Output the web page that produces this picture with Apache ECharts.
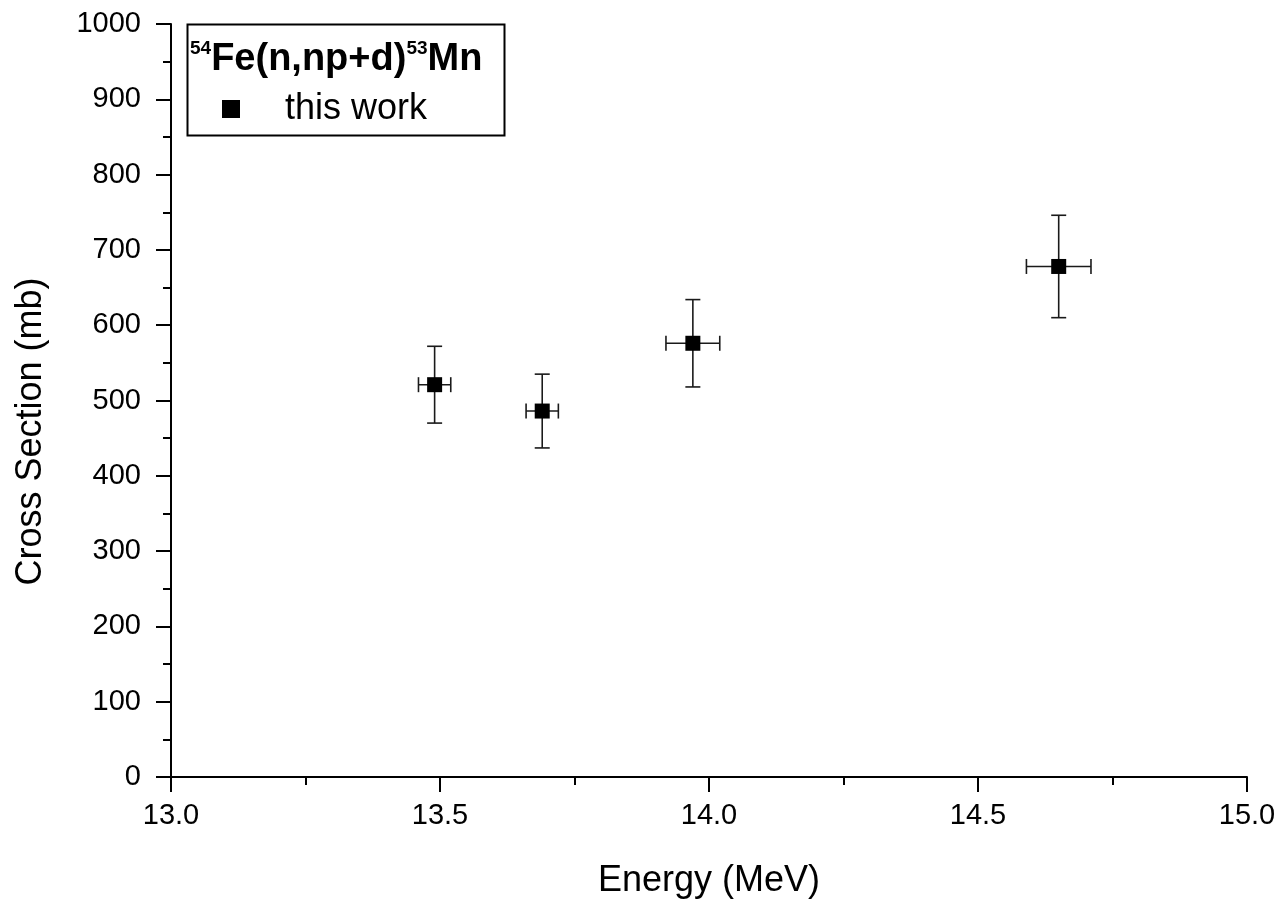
<!DOCTYPE html>
<html>
<head>
<meta charset="utf-8">
<script src="https://cdn.jsdelivr.net/npm/echarts@6/dist/echarts.min.js"></script>
<style>
html,body{margin:0;padding:0;background:#fff;}
#chart{width:1284px;height:904px;}
</style>
</head>
<body>
<div id="chart"></div>
<script>
// Data
const energy    = [13.49, 13.69, 13.97, 14.65];   // MeV
const energyErr = [0.03, 0.03, 0.05, 0.06];       // MeV
const xs        = [521, 486, 576, 678];           // mb
const xsErr     = [51, 49, 58, 68];               // mb
const xTicks    = { min: 13.0, max: 15.0, interval: 0.5 };
const yTicks    = { min: 0, max: 1000, interval: 100 };
const seriesName = 'this work';
const xName = 'Energy (MeV)';
const yName = 'Cross Section (mb)';

const FONT = "'Liberation Sans', Arial, sans-serif";

const points = energy.map((e, i) => [e, xs[i]]);
const errData = energy.map((e, i) => [e, xs[i], energyErr[i], xsErr[i]]);

const chart = echarts.init(document.getElementById('chart'), null, { renderer: 'canvas' });

const axisCommon = {
  axisLine: { show: true, onZero: false, lineStyle: { color: '#000', width: 2 } },
  axisTick: { show: true, inside: false, length: 15, lineStyle: { color: '#000', width: 2 } },
  minorTick: { show: true, splitNumber: 2, length: 8, lineStyle: { color: '#000', width: 2 } },
  splitLine: { show: false },
  minorSplitLine: { show: false }
};

chart.setOption({
  backgroundColor: '#fff',
  animation: false,
  textStyle: { fontFamily: FONT },
  grid: { left: 171, right: 37, top: 24, bottom: 124, containLabel: false },
  title: {
    left: 190, top: 39, padding: 0,
    text: '{sup|54}{b|Fe(n,np+d)}{sup|53}{b|Mn}',
    textStyle: {
      rich: {
        sup: { fontSize: 19, fontFamily: FONT, color: '#000', verticalAlign: 'top', lineHeight: 42 },
        b: { fontSize: 38, fontWeight: 'bold', fontFamily: FONT, color: '#000', lineHeight: 42 }
      }
    }
  },
  legend: {
    left: 222, top: 91, padding: 0,
    data: [{ name: seriesName, icon: 'rect', itemStyle: { color: '#000', opacity: 1 } }],
    itemWidth: 18, itemHeight: 18,
    textStyle: { fontSize: 36, color: '#000', fontFamily: FONT, padding: [0, 0, 0, 40] }
  },
  graphic: [{
    type: 'rect', left: 185, top: 22, z: 100, silent: true,
    shape: { width: 317, height: 111 },
    style: { fill: 'none', stroke: '#000', lineWidth: 2 }
  }],
  xAxis: Object.assign({
    type: 'value', min: xTicks.min, max: xTicks.max, interval: xTicks.interval,
    name: xName, nameLocation: 'middle', nameGap: 86,
    nameTextStyle: { fontSize: 36, color: '#000', fontFamily: FONT },
    axisLabel: { fontSize: 29, color: '#000', margin: 24, fontFamily: FONT,
      formatter: v => v.toFixed(1) }
  }, axisCommon),
  yAxis: Object.assign({
    type: 'value', min: yTicks.min, max: yTicks.max, interval: yTicks.interval,
    name: yName, nameLocation: 'middle', nameGap: 122, nameRotate: 90,
    nameTextStyle: { fontSize: 36, color: '#000', fontFamily: FONT, padding: [0, 62, 0, 0] },
    axisLabel: { fontSize: 29, color: '#000', margin: 30, fontFamily: FONT,
      formatter: v => String(v) }
  }, axisCommon),
  series: [
    {
      type: 'custom',
      name: 'errors',
      data: errData,
      z: 2,
      renderItem: function (params, api) {
        const x = api.value(0), y = api.value(1), dx = api.value(2), dy = api.value(3);
        const top = api.coord([x, y + dy]);
        const bot = api.coord([x, y - dy]);
        const lft = api.coord([x - dx, y]);
        const rgt = api.coord([x + dx, y]);
        const cap = 7.5;
        const st = { stroke: '#1a1a1a', lineWidth: 1.6 };
        return {
          type: 'group',
          children: [
            { type: 'line', shape: { x1: top[0], y1: top[1], x2: bot[0], y2: bot[1] }, style: st },
            { type: 'line', shape: { x1: top[0] - cap, y1: top[1], x2: top[0] + cap, y2: top[1] }, style: st },
            { type: 'line', shape: { x1: bot[0] - cap, y1: bot[1], x2: bot[0] + cap, y2: bot[1] }, style: st },
            { type: 'line', shape: { x1: lft[0], y1: lft[1], x2: rgt[0], y2: rgt[1] }, style: st },
            { type: 'line', shape: { x1: lft[0], y1: lft[1] - cap, x2: lft[0], y2: lft[1] + cap }, style: st },
            { type: 'line', shape: { x1: rgt[0], y1: rgt[1] - cap, x2: rgt[0], y2: rgt[1] + cap }, style: st }
          ]
        };
      }
    },
    {
      type: 'scatter',
      name: seriesName,
      data: points,
      symbol: 'rect',
      symbolSize: 15,
      z: 3,
      itemStyle: { color: '#000', opacity: 1 }
    }
  ]
});
</script>
</body>
</html>
